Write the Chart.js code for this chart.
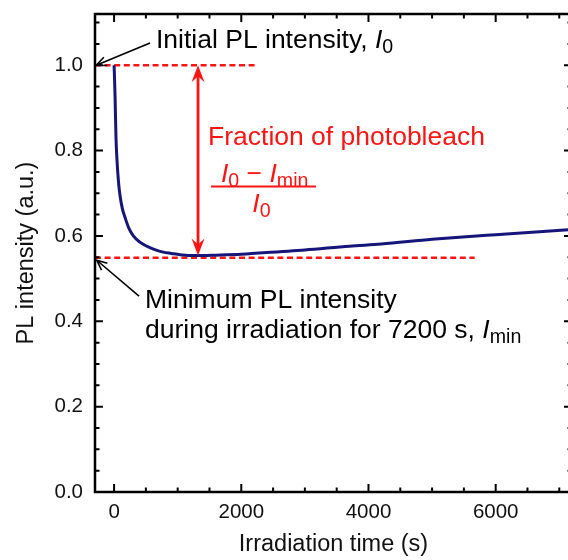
<!DOCTYPE html>
<html>
<head>
<meta charset="utf-8">
<script src="https://cdn.jsdelivr.net/npm/chart.js@4.4.1/dist/chart.umd.min.js"></script>
<style>
  html, body { margin: 0; padding: 0; background: #fff; overflow: hidden; }
  canvas { display: block; }
</style>
</head>
<body>
<canvas id="chart" width="580" height="560"></canvas>
<script>
// PL decay curve
const timeS = [0, 8, 15, 30, 45, 58, 75, 94, 130, 173, 230, 303, 400, 513, 640, 774, 900, 1036, 1300, 1600, 2000, 2600, 3000, 3700, 4200, 5000, 6000, 7200];
const plIntensity = [1.0, 0.965, 0.93, 0.83, 0.78, 0.749, 0.718, 0.694, 0.664, 0.643, 0.619, 0.6, 0.586, 0.576, 0.568, 0.562, 0.559, 0.556, 0.554, 0.555, 0.557, 0.563, 0.567, 0.576, 0.581, 0.592, 0.603, 0.615];

// reference levels
const i0Level = 1.0;
const iMinLevel = 0.549;
const i0LineX = [-300, 2210];
const iMinLineX = [-300, 5670];
const bleachArrowX = 1320;
const bleachArrowY = [1.0, 0.554];

// axes
const xRange = [-300, 7200];
const yRange = [0, 1.12];
const xTicks = [0, 2000, 4000, 6000];
const yTicks = [0, 0.2, 0.4, 0.6, 0.8, 1.0];
const xMinorStep = 500;
const yMinorStep = 0.05;

const NAVY = '#16167a';
const RED = '#ff1414';
const FONT = '"Liberation Sans", Arial, sans-serif';
const NOTE_SIZE = 26.5;

function minorTicks(lo, hi, step) {
  const out = [];
  for (let i = Math.ceil(lo / step); i * step <= hi + 1e-9; i++) out.push(+(i * step).toFixed(4));
  return out;
}

// draw a run of text pieces: {t, it (italic), sub}
function richText(ctx, x, y, parts, size, color) {
  ctx.fillStyle = color;
  ctx.textBaseline = 'alphabetic';
  ctx.textAlign = 'left';
  let cx = x;
  parts.forEach(p => {
    const s = p.sub ? size * 0.74 : size;
    ctx.font = (p.it ? 'italic ' : '') + s + 'px ' + FONT;
    ctx.fillText(p.t, cx, p.sub ? y + size * 0.2 : y);
    cx += ctx.measureText(p.t).width;
  });
  return cx - x;
}

function measureRich(ctx, parts, size) {
  let w = 0;
  parts.forEach(p => {
    const s = p.sub ? size * 0.74 : size;
    ctx.font = (p.it ? 'italic ' : '') + s + 'px ' + FONT;
    w += ctx.measureText(p.t).width;
  });
  return w;
}

function openArrow(ctx, x0, y0, x1, y1) {
  const ang = Math.atan2(y1 - y0, x1 - x0);
  const len = 11, spread = 0.42;
  ctx.beginPath();
  ctx.moveTo(x0, y0);
  ctx.lineTo(x1, y1);
  ctx.moveTo(x1 - len * Math.cos(ang - spread), y1 - len * Math.sin(ang - spread));
  ctx.lineTo(x1, y1);
  ctx.lineTo(x1 - len * Math.cos(ang + spread), y1 - len * Math.sin(ang + spread));
  ctx.stroke();
}

function barbHead(ctx, x, y, dir) {
  // filled barbed head pointing along dir (+1 down, -1 up)
  const L = 17, W = 6.5, notch = 11;
  ctx.beginPath();
  ctx.moveTo(x, y);
  ctx.lineTo(x - W, y - dir * L);
  ctx.lineTo(x, y - dir * notch);
  ctx.lineTo(x + W, y - dir * L);
  ctx.closePath();
  ctx.fill();
}

const annotations = {
  id: 'annotations',
  afterDatasetsDraw(chart) {
    const { ctx, chartArea: a, scales: { x, y } } = chart;
    ctx.save();

    // double arrow for fraction of photobleach
    const ax = x.getPixelForValue(bleachArrowX);
    const ay0 = y.getPixelForValue(bleachArrowY[0]);
    const ay1 = y.getPixelForValue(bleachArrowY[1]);
    ctx.strokeStyle = RED;
    ctx.fillStyle = RED;
    ctx.lineWidth = 2.8;
    ctx.beginPath();
    ctx.moveTo(ax, ay0 + 10);
    ctx.lineTo(ax, ay1 - 10);
    ctx.stroke();
    barbHead(ctx, ax, ay0, -1);
    barbHead(ctx, ax, ay1, 1);

    // red labels
    ctx.font = NOTE_SIZE + 'px ' + FONT;
    ctx.fillStyle = RED;
    ctx.textAlign = 'left';
    ctx.textBaseline = 'alphabetic';
    ctx.fillText('Fraction of photobleach', x.getPixelForValue(1477), y.getPixelForValue(0.813));

    const num = [{ t: 'I', it: true }, { t: '0', sub: true }, { t: ' \u2212 ' }, { t: 'I', it: true }, { t: 'min', sub: true }];
    richText(ctx, x.getPixelForValue(1681), y.getPixelForValue(0.726), num, NOTE_SIZE, RED);
    const bx0 = x.getPixelForValue(1524), bx1 = x.getPixelForValue(3175), by = y.getPixelForValue(0.716);
    ctx.lineWidth = 2;
    ctx.beginPath();
    ctx.moveTo(bx0, by);
    ctx.lineTo(bx1, by);
    ctx.stroke();
    const den = [{ t: 'I', it: true }, { t: '0', sub: true }];
    const dw = measureRich(ctx, den, NOTE_SIZE);
    richText(ctx, x.getPixelForValue(2318) - dw / 2, y.getPixelForValue(0.656), den, NOTE_SIZE, RED);

    // black labels and arrows
    ctx.strokeStyle = '#000';
    ctx.lineWidth = 1.6;
    openArrow(ctx, x.getPixelForValue(565), y.getPixelForValue(1.052), x.getPixelForValue(-280), y.getPixelForValue(i0Level));
    openArrow(ctx, x.getPixelForValue(392), y.getPixelForValue(0.459), x.getPixelForValue(-272), y.getPixelForValue(0.543));

    richText(ctx, x.getPixelForValue(659), y.getPixelForValue(1.040),
      [{ t: 'Initial PL intensity, ' }, { t: 'I', it: true }, { t: '0', sub: true }], NOTE_SIZE, '#000');
    richText(ctx, x.getPixelForValue(486), y.getPixelForValue(0.431),
      [{ t: 'Minimum PL intensity' }], NOTE_SIZE, '#000');
    richText(ctx, x.getPixelForValue(486), y.getPixelForValue(0.361),
      [{ t: 'during irradiation for 7200 s, ' }, { t: 'I', it: true }, { t: 'min', sub: true }], NOTE_SIZE, '#000');

    // frame with inward ticks on all four sides
    ctx.strokeStyle = '#000';
    ctx.lineWidth = 2.5;
    ctx.strokeRect(a.left, a.top, a.right - a.left, a.bottom - a.top);
    ctx.lineWidth = 2;
    ctx.beginPath();
    minorTicks(xRange[0], xRange[1], xMinorStep).forEach(v => {
      const px = x.getPixelForValue(v);
      const len = xTicks.includes(v) ? 8 : 4.5;
      ctx.moveTo(px, a.bottom); ctx.lineTo(px, a.bottom - len);
      ctx.moveTo(px, a.top); ctx.lineTo(px, a.top + len);
    });
    minorTicks(yRange[0], yRange[1], yMinorStep).forEach(v => {
      const py = y.getPixelForValue(v);
      const len = yTicks.some(t => Math.abs(t - v) < 1e-6) ? 8 : 4.5;
      ctx.moveTo(a.left, py); ctx.lineTo(a.left + len, py);
      ctx.moveTo(a.right, py); ctx.lineTo(a.right - len, py);
    });
    ctx.stroke();

    ctx.restore();
  }
};

const ctx = document.getElementById('chart').getContext('2d');
new Chart(ctx, {
  type: 'line',
  data: {
    datasets: [
      {
        label: 'PL intensity',
        data: timeS.map((t, i) => ({ x: t, y: plIntensity[i] })),
        borderColor: NAVY,
        borderWidth: 3,
        pointRadius: 0,
        cubicInterpolationMode: 'monotone',
      },
      {
        label: 'I0',
        data: i0LineX.map(t => ({ x: t, y: i0Level })),
        borderColor: RED,
        borderWidth: 2.6,
        borderDash: [6, 3.6],
        pointRadius: 0,
      },
      {
        label: 'Imin',
        data: iMinLineX.map(t => ({ x: t, y: iMinLevel })),
        borderColor: RED,
        borderWidth: 2.6,
        borderDash: [6, 3.6],
        pointRadius: 0,
      },
    ],
  },
  options: {
    responsive: false,
    animation: false,
    layout: { padding: { top: 14, right: 8, left: 0, bottom: 0 } },
    plugins: {
      legend: { display: false },
      tooltip: { enabled: false },
    },
    scales: {
      x: {
        type: 'linear',
        min: xRange[0],
        max: xRange[1],
        grid: { display: false, drawTicks: false },
        border: { display: false },
        afterBuildTicks: (s) => { s.ticks = xTicks.map(v => ({ value: v })); },
        afterFit: (s) => { s.height = 68; s.paddingLeft = 0; s.paddingRight = 0; },
        ticks: {
          padding: 8,
          color: '#111',
          font: { family: FONT, size: 20.5 },
          callback: (v) => String(v),
        },
        title: {
          display: true,
          text: 'Irradiation time (s)',
          color: '#111',
          font: { family: FONT, size: 23.5 },
          padding: { top: 0, bottom: 1 },
        },
      },
      y: {
        type: 'linear',
        min: yRange[0],
        max: yRange[1],
        grid: { display: false, drawTicks: false },
        border: { display: false },
        afterBuildTicks: (s) => { s.ticks = yTicks.map(v => ({ value: v })); },
        afterFit: (s) => { s.width = 95; s.paddingTop = 0; s.paddingBottom = 0; },
        ticks: {
          padding: 12,
          color: '#111',
          font: { family: FONT, size: 20.5 },
          callback: (v) => v.toFixed(1),
        },
        title: {
          display: true,
          text: 'PL intensity (a.u.)',
          color: '#111',
          font: { family: FONT, size: 23.5 },
          padding: { top: 12, bottom: 0 },
        },
      },
    },
  },
  plugins: [annotations],
});
</script>
</body>
</html>
